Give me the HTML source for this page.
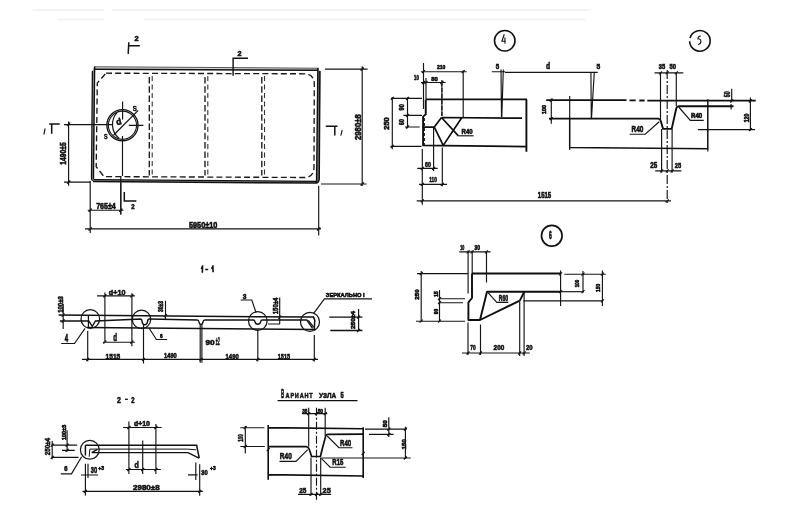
<!DOCTYPE html>
<html><head><meta charset="utf-8">
<style>
html,body{margin:0;padding:0;background:#fff;width:789px;height:514px;overflow:hidden}
svg{display:block;will-change:transform}
text{font-family:"Liberation Sans",sans-serif;font-weight:bold;fill:#111;stroke:#111;stroke-width:0.6}
.k{stroke:#0e0e0e;stroke-width:1.9;fill:none;stroke-linejoin:round}
.m{stroke:#111;stroke-width:1.4;fill:none}
.t{stroke:#141414;stroke-width:1.15;fill:none}
.d{stroke:#1e1e1e;stroke-width:1.3;fill:none;stroke-dasharray:7 3}
.f{stroke:#f3f3f3;stroke-width:2;fill:none}
</style></head>
<body>
<svg width="789" height="514" viewBox="0 0 789 514">
<path class="f" d="M33 10 H104 M112 10 H590 M58 19.5 H104 M144 19.5 H585"/>
<path d="M94.5 66.9 L318.5 68.3 V70.3 L94.5 69.1 Z" fill="#d4d4d4" stroke="none"/>
<path class="m" d="M94.5 66.7 L318.6 68.2" style="stroke-width:1.1;stroke:#555"/>
<path class="m" d="M94.5 69.2 L318 70.3" style="stroke-width:1.4"/>
<path d="M92.3 70 L91.5 178.8 H93.4 L94.6 67 Z" fill="#b0b0b0" stroke="none"/>
<path class="m" d="M92.4 71 L91.5 178.8 Q91.8 180.3 93.4 180.5" style="stroke-width:1.3"/>
<path class="m" d="M94.6 66.5 L93.4 179" style="stroke-width:1.5"/>
<path d="M93.4 179.6 L317 181.3 V183.1 L93.4 181.5 Z" fill="#9a9a9a" stroke="none"/>
<path class="m" d="M93.4 179.6 L317 181.3" style="stroke-width:1.3"/>
<path class="m" d="M93 181.5 L317 183.1" style="stroke-width:1.5"/>
<path d="M318 70 L317 183 L319.5 180 L320.4 71 Z" fill="#8a8a8a" stroke="none"/>
<path class="m" d="M317.9 68 L316.6 183.1" style="stroke-width:1.5"/>
<path class="m" d="M319.9 71 L319.2 179.3 Q319 182 317 183" style="stroke-width:1.5"/>
<path class="d" d="M106 73.2 L305 73.8 Q314.3 74.5 314.3 84 L314 168 Q313.5 177 305 177.5 L104 176.6 L96.2 166.7 L97.3 83 L106 73.2" style="stroke-dasharray:6 3.2;stroke-width:1.35;stroke:#1a1a1a"/>
<path class="d" d="M149.3 77 V175.5 M205 77 V175.5 M261.8 77 V175.5" style="stroke-width:1.35;stroke:#1a1a1a;stroke-dasharray:6.5 2.8"/>
<path class="d" d="M152.2 76 V176 M207.8 76 V176 M264.5 76 V176" style="stroke-width:1.1;stroke:#333;stroke-dasharray:5 3.5"/>
<circle class="m" cx="122.45" cy="125.25" r="15.6" style="stroke-width:1.3"/>
<circle class="t" cx="122.45" cy="125.25" r="14.1" style="stroke-width:1.1"/>
<path class="t" d="M117.2 112.4 A18 18 0 0 0 119.1 138.5" style="stroke-width:1.2"/>
<path class="t" d="M64 124.6 H112.9 M128.8 125.4 H143.4 M122.6 101.4 V119.4 M122.5 136.1 V176 M120.8 183 V214.5"/>
<path class="m" d="M113.7 135 L138.2 110.4" style="stroke-width:1.2"/>
<text x="132.70" y="110.50" font-size="6.76" textLength="4.00" lengthAdjust="spacingAndGlyphs" style="font-weight:normal">S</text>
<text x="103.90" y="138.90" font-size="6.76" textLength="3.60" lengthAdjust="spacingAndGlyphs" style="font-weight:normal">S</text>
<text transform="translate(118.7 121.3) rotate(-15)" x="-2.6" y="3.4" font-size="9" textLength="5.2" lengthAdjust="spacingAndGlyphs">d</text>
<path class="m" d="M128.8 42.3 L128.2 53.9 M128.5 45.8 H139.8" style="stroke-width:1.5"/>
<text x="134.60" y="41.40" font-size="7.89" textLength="4.10" lengthAdjust="spacingAndGlyphs">2</text>
<path class="m" d="M233.1 75.7 V58.25 H248" style="stroke-width:1.4"/>
<text x="237.60" y="55.70" font-size="7.75" textLength="4.00" lengthAdjust="spacingAndGlyphs">2</text>
<path class="m" d="M124.3 192 V201 H136.4" style="stroke-width:1.5"/>
<text x="131.20" y="209.10" font-size="7.32" textLength="3.30" lengthAdjust="spacingAndGlyphs">2</text>
<path class="m" d="M49.2 124 H59.7 M51.7 124 V133.8" style="stroke-width:1.5"/>
<path class="m" d="M45.1 128.5 L43.9 134.5" style="stroke-width:1.2"/>
<path class="m" d="M325.8 126.3 H337.5 M334.8 126.3 V135.6" style="stroke-width:1.5"/>
<path class="m" d="M342.2 130 L340.8 135.6" style="stroke-width:1.1"/>
<path class="t" d="M68.6 121.6 V185.8 M64 182.1 H90.3 M67.00 125.90 L70.20 122.70 M67.00 183.70 L70.20 180.50"/>
<text transform="translate(63.00 153.50) rotate(-90)" x="0" y="2.90" text-anchor="middle" font-size="8.17" textLength="22.40" lengthAdjust="spacingAndGlyphs">1490±5</text>
<path class="t" d="M90.2 181 V233 M87.7 210.2 H123.5 M120.8 176 V214.5 M88.60 211.80 L91.80 208.60 M119.20 211.80 L122.40 208.60"/>
<text x="96.20" y="208.70" font-size="8.31" textLength="19.60" lengthAdjust="spacingAndGlyphs">765±4</text>
<path class="t" d="M85 228.9 H321 M318.7 185.7 V235.5 M88.60 230.50 L91.80 227.30 M317.10 230.50 L320.30 227.30"/>
<text x="188.90" y="227.50" font-size="8.45" textLength="28.50" lengthAdjust="spacingAndGlyphs">5950±10</text>
<path class="t" d="M362.2 66.2 V186 M325 69.1 H367.6 M321 184 H366.6 M360.60 70.70 L363.80 67.50 M360.60 185.60 L363.80 182.40"/>
<text transform="translate(357.05 127.15) rotate(-90)" x="0" y="3.45" text-anchor="middle" font-size="9.72" textLength="25.70" lengthAdjust="spacingAndGlyphs">2980±8</text>
<circle class="m" cx="504.75" cy="40.75" r="10.25" style="stroke-width:1.6"/>
<path class="m" d="M504.3 34.2 L501.9 41.3 H505.8 M504.9 37.5 L505 43.8" style="stroke-width:1.1"/>
<path class="k" d="M425.75 99.4 H527 M425.75 99.4 V114.3 L423.1 116.6 V145.4 M422.3 145.4 L526 146.6 M526.4 99.4 V151.7"/>
<path class="k" d="M441.5 117.5 L522 118.2 M422.6 127.1 H434.3 L441.5 117.5 M434.3 127.1 L443.25 145.4 L461.9 117.5 M441.5 117.5 L458.4 135.8" style="stroke-width:1.7"/>
<path class="t" d="M458.4 135.8 H473.6"/>
<path class="t" d="M424.5 118 V145" style="stroke-dasharray:3 2;stroke-width:0.9"/>
<text x="461.60" y="133.80" font-size="7.75" textLength="11.10" lengthAdjust="spacingAndGlyphs">R40</text>
<path class="t" d="M423.5 63 V109 M426 78 V99 M441.9 80 V116 M463.2 70.2 V117.5 M421 71.7 H466.7 M421 82.5 H445.7"/>
<path class="t" d="M441.9 82 V116" style="stroke-dasharray:4 2"/>
<path class="t" d="M422.00 73.20 L425.00 70.20 M461.70 73.20 L464.70 70.20 M422.00 84.00 L425.00 81.00 M424.50 84.00 L427.50 81.00 M440.40 84.00 L443.40 81.00"/>
<text x="436.90" y="69.20" font-size="6.20" textLength="8.50" lengthAdjust="spacingAndGlyphs">210</text>
<text x="414.10" y="79.70" font-size="6.90" textLength="4.70" lengthAdjust="spacingAndGlyphs">10</text>
<text x="431.20" y="80.50" font-size="6.06" textLength="6.60" lengthAdjust="spacingAndGlyphs">80</text>
<path class="t" d="M392.3 97.3 V149.2 M391 98.4 H422 M390.5 146.3 H421.5 M407.5 97.3 V128.2 M403.4 115.4 H422 M405 127 H419.7"/>
<path class="t" d="M390.80 99.90 L393.80 96.90 M390.80 147.80 L393.80 144.80 M406.00 99.90 L409.00 96.90 M406.00 116.90 L409.00 113.90 M406.00 128.50 L409.00 125.50"/>
<text transform="translate(386.65 123.50) rotate(-90)" x="0" y="2.35" text-anchor="middle" font-size="6.62" textLength="12.40" lengthAdjust="spacingAndGlyphs">250</text>
<text transform="translate(401.90 107.20) rotate(-90)" x="0" y="2.30" text-anchor="middle" font-size="6.48" textLength="6.40" lengthAdjust="spacingAndGlyphs">90</text>
<text transform="translate(401.90 122.10) rotate(-90)" x="0" y="2.30" text-anchor="middle" font-size="6.48" textLength="5.80" lengthAdjust="spacingAndGlyphs">60</text>
<path class="t" d="M433.6 128 V171 M417.2 168.4 H437.7 M442.3 147.5 V186.2 M419 184.4 H447 M422.3 149 V204.8"/>
<path class="t" d="M432.10 169.90 L435.10 166.90 M420.80 169.90 L423.80 166.90 M440.80 185.90 L443.80 182.90 M420.80 185.90 L423.80 182.90"/>
<text x="425.10" y="166.60" font-size="7.32" textLength="5.80" lengthAdjust="spacingAndGlyphs">60</text>
<text x="429.20" y="182.40" font-size="7.46" textLength="7.60" lengthAdjust="spacingAndGlyphs">110</text>
<path class="t" d="M491.8 71.7 H505 M501 69.6 L501.5 117 M503.3 69.6 L501.8 117"/>
<text x="495.80" y="69.20" font-size="6.90" textLength="3.40" lengthAdjust="spacingAndGlyphs">5</text>
<path class="m" d="M689.6 41.3 A10.3 10.3 0 1 0 690 38" style="stroke-width:1.6"/>
<path class="m" d="M700.8 36.2 Q699 35.8 698.3 37.3 L697.9 38.8 Q700.8 38.6 700.9 41.3 Q700.9 43.8 698.2 44.8" style="stroke-width:1.1"/>
<path class="t" d="M505 72.4 H597.7 M590.9 72 L591.3 118.4 M594.3 72 L591.5 118.4"/>
<text x="545.90" y="69.20" font-size="9.01" textLength="4.10" lengthAdjust="spacingAndGlyphs">d</text>
<text x="596.60" y="69.20" font-size="7.18" textLength="3.70" lengthAdjust="spacingAndGlyphs">5</text>
<path class="k" d="M546.2 100.1 H626.5 M629.5 100.4 H635.7 M639.3 100.5 H644.6 M647.3 100.6 H755.7 M549 118.6 H658.4 Q660.6 119.3 661 121.8 L663.1 128.9 H671.7 L676.3 108.3 Q677 106.3 679 106.3 H733.5"/>
<path class="m" d="M569.7 118.6 V147.6 L707.8 148.7 V99.3" style="stroke-width:1.5"/>
<path class="t" d="M569.7 95.9 V118.6 M569.7 147.6 V150 M707.8 148.7 V151.5 M731.1 104 V109.5"/>
<path class="t" d="M551.3 98.6 V123.8 M549.80 101.60 L552.80 98.60 M549.80 120.10 L552.80 117.10"/>
<text transform="translate(544.55 109.50) rotate(-90)" x="0" y="1.75" text-anchor="middle" font-size="4.93" textLength="9.00" lengthAdjust="spacingAndGlyphs">100</text>
<path class="t" d="M654.5 72.8 H683.3 M660.5 72.5 V120.2 M676.3 72.5 V106.2 M661.6 129 V172.8 M672.1 129 V172.8 M655.2 170.8 H681.4"/>
<path class="t" d="M667.2 70 V205" style="stroke-dasharray:9 2 2 2"/>
<path class="t" d="M659.00 74.30 L662.00 71.30 M665.70 74.30 L668.70 71.30 M674.80 74.30 L677.80 71.30 M660.10 172.30 L663.10 169.30 M665.70 172.30 L668.70 169.30 M670.60 172.30 L673.60 169.30"/>
<text x="658.70" y="69.40" font-size="6.90" textLength="6.40" lengthAdjust="spacingAndGlyphs">35</text>
<text x="669.60" y="69.40" font-size="6.90" textLength="6.40" lengthAdjust="spacingAndGlyphs">50</text>
<text x="650.20" y="168.40" font-size="8.17" textLength="7.00" lengthAdjust="spacingAndGlyphs">25</text>
<text x="674.70" y="168.40" font-size="7.46" textLength="6.40" lengthAdjust="spacingAndGlyphs">25</text>
<path class="t" d="M629.7 134.2 H645.2 L659.2 121.8 M678.7 107 L690.3 120.3 H703.7"/>
<text x="631.50" y="132.30" font-size="9.15" textLength="11.90" lengthAdjust="spacingAndGlyphs">R40</text>
<text x="691.10" y="118.20" font-size="6.48" textLength="11.10" lengthAdjust="spacingAndGlyphs">R40</text>
<path class="t" d="M416.7 200.8 H671 M420.80 202.30 L423.80 199.30 M665.70 202.30 L668.70 199.30"/>
<text x="537.80" y="197.70" font-size="8.17" textLength="13.40" lengthAdjust="spacingAndGlyphs">1515</text>
<path class="t" d="M731.7 88.8 V102.2 M697.9 129.6 H755.1 M750.4 97.5 V130.8 M730.20 102.50 L733.20 99.50 M748.90 102.50 L751.90 99.50 M748.90 131.10 L751.90 128.10"/>
<text transform="translate(726.75 94.30) rotate(-90)" x="0" y="2.95" text-anchor="middle" font-size="8.31" textLength="5.80" lengthAdjust="spacingAndGlyphs">50</text>
<text transform="translate(746.65 117.95) rotate(-90)" x="0" y="2.35" text-anchor="middle" font-size="6.62" textLength="8.70" lengthAdjust="spacingAndGlyphs">120</text>
<circle class="m" cx="551.8" cy="235.75" r="10.3" style="stroke-width:1.7"/>
<text x="549.10" y="239.40" font-size="11.13" textLength="2.80" lengthAdjust="spacingAndGlyphs" style="stroke-width:0.8">6</text>
<path class="k" d="M472 273.5 H560.7 M472 273.5 V298 L468.4 302.3 V320 H480 L487 291.7 H560.7 M480 320 L519.8 300.6 L524.3 291.7"/>
<path class="t" d="M560.7 291.7 H584"/>
<path class="t" d="M488 292.6 L496.8 302.3 H508.3"/>
<text x="498.80" y="301.20" font-size="8.31" textLength="9.20" lengthAdjust="spacingAndGlyphs">R60</text>
<path class="t" d="M523.4 300.8 H602.4 M560.6 270.4 V305.9 M564.3 274.2 H605.8 M583 271 V292.2 M602.4 270.4 V305.9"/>
<path class="t" d="M559.10 275.30 L562.10 272.30 M559.10 293.20 L562.10 290.20 M581.50 275.70 L584.50 272.70 M581.50 293.20 L584.50 290.20 M600.90 275.70 L603.90 272.70 M600.90 302.30 L603.90 299.30"/>
<text transform="translate(577.15 283.40) rotate(-90)" x="0" y="2.05" text-anchor="middle" font-size="5.77" textLength="7.60" lengthAdjust="spacingAndGlyphs">100</text>
<text transform="translate(597.70 287.80) rotate(-90)" x="0" y="2.10" text-anchor="middle" font-size="5.92" textLength="8.20" lengthAdjust="spacingAndGlyphs">150</text>
<path class="t" d="M459.3 251.8 H490.6 M468.1 250.4 V293.4 M472.2 250.4 V273.6 M486.5 251.8 V282.5"/>
<path class="t" d="M466.60 253.30 L469.60 250.30 M470.70 253.30 L473.70 250.30 M485.00 253.30 L488.00 250.30"/>
<text x="460.30" y="250.10" font-size="6.76" textLength="4.10" lengthAdjust="spacingAndGlyphs">10</text>
<text x="474.60" y="250.10" font-size="6.76" textLength="5.50" lengthAdjust="spacingAndGlyphs">30</text>
<path class="t" d="M417 273.6 H468.1 M421.2 271 V321.6 M416 321.2 H465 M439.5 290 V321.6 M438.5 298.7 H465 M438.5 302.7 H463"/>
<path class="t" d="M419.70 275.10 L422.70 272.10 M419.70 322.70 L422.70 319.70 M438.00 300.20 L441.00 297.20 M438.00 304.20 L441.00 301.20 M438.00 322.70 L441.00 319.70"/>
<text transform="translate(417.20 294.50) rotate(-90)" x="0" y="2.10" text-anchor="middle" font-size="5.92" textLength="10.40" lengthAdjust="spacingAndGlyphs">250</text>
<text transform="translate(436.00 294.00) rotate(-90)" x="0" y="1.90" text-anchor="middle" font-size="5.35" textLength="5.40" lengthAdjust="spacingAndGlyphs">15</text>
<text transform="translate(436.00 311.45) rotate(-90)" x="0" y="1.90" text-anchor="middle" font-size="5.35" textLength="5.50" lengthAdjust="spacingAndGlyphs">90</text>
<path class="t" d="M461.9 353 H529.8 M468 322.6 V355 M480.5 324.6 V355 M519.7 302 V356 M524.1 292 V356"/>
<path class="t" d="M466.50 354.50 L469.50 351.50 M479.00 354.50 L482.00 351.50 M518.20 354.50 L521.20 351.50 M522.60 354.50 L525.60 351.50"/>
<text x="470.30" y="349.70" font-size="7.61" textLength="5.40" lengthAdjust="spacingAndGlyphs">70</text>
<text x="493.60" y="349.70" font-size="7.61" textLength="10.60" lengthAdjust="spacingAndGlyphs">200</text>
<text x="526.10" y="349.70" font-size="7.61" textLength="6.50" lengthAdjust="spacingAndGlyphs">20</text>
<path class="m" d="M202.6 265.2 L202.3 272.7 M202.5 266.5 L201.2 268.8 M205.3 269.5 H208.2 M212.9 265.3 L213.1 272.2 M212.9 266.5 L211.5 268.8" style="stroke-width:1.6"/>
<path class="m" d="M58.6 315.1 L313.5 317.1 L314.8 320.3 L314.3 328.9" style="stroke-width:1.5"/>
<path class="m" d="M59.9 321 L88.8 321 L92.3 326.3 L95.5 321 L136 319.2 L140.30 319.00 Q141.80 319.00 142.10 321.56 Q142.50 324.70 144.80 324.70 Q147.10 324.70 147.50 321.56 Q147.80 319.00 149.30 319.00 L197.20 320.00 Q198.70 320.00 199.00 321.98 Q199.40 324.40 201.00 324.40 Q202.60 324.40 203.00 321.98 Q203.30 320.00 204.80 320.00 L253.20 320.00 Q254.70 320.00 255.00 321.89 Q255.40 324.20 257.80 324.20 Q260.20 324.20 260.60 321.89 Q260.90 320.00 262.40 320.00 L306.8 320 L312.6 328.3" style="stroke-width:1.4"/>
<path class="m" d="M308.4 320.3 L313.7 327.2" style="stroke-width:1.2"/>
<path class="m" d="M87 327.6 L316 329.4" style="stroke-width:1.5"/>
<path class="m" d="M88.4 316 V327.6" style="stroke-width:1.2"/>
<circle class="t" cx="90.3" cy="319" r="9.3" style="stroke-width:1.25"/>
<circle class="t" cx="141.5" cy="319.4" r="9.2" style="stroke-width:1.25"/>
<circle class="t" cx="257.8" cy="321" r="9.3" style="stroke-width:1.25"/>
<circle class="t" cx="310" cy="321.9" r="9.5" style="stroke-width:1.25"/>
<path class="t" d="M63.2 303.8 V329 M61.70 316.60 L64.70 313.60 M61.70 322.50 L64.70 319.50"/>
<text transform="translate(60.25 304.50) rotate(-90)" x="0" y="2.65" text-anchor="middle" font-size="7.46" textLength="16.60" lengthAdjust="spacingAndGlyphs">100±3</text>
<path class="t" d="M97 295.9 H134.9 M104.9 292.6 V342.8 M131.9 293.3 V346.2 M102.9 342.2 H134.9 M103.40 297.40 L106.40 294.40 M130.40 297.40 L133.40 294.40 M103.40 343.70 L106.40 340.70 M130.40 343.70 L133.40 340.70"/>
<text x="108.80" y="294.50" font-size="8.03" textLength="16.70" lengthAdjust="spacingAndGlyphs">d+10</text>
<text x="113.30" y="340.70" font-size="10.00" textLength="3.80" lengthAdjust="spacingAndGlyphs">d</text>
<path class="t" d="M61.2 343.5 H74.5 L85 328.3 M149 328 L156.4 339.5 H167.1"/>
<text x="64.80" y="341.90" font-size="10.42" textLength="3.40" lengthAdjust="spacingAndGlyphs">4</text>
<text x="160.00" y="337.60" font-size="6.06" textLength="2.70" lengthAdjust="spacingAndGlyphs">6</text>
<path class="t" d="M165.5 300.7 V320 M164.00 317.10 L167.00 314.10"/>
<text transform="translate(160.75 306.50) rotate(-90)" x="0" y="2.45" text-anchor="middle" font-size="6.90" textLength="11.00" lengthAdjust="spacingAndGlyphs">30±3</text>
<path class="t" d="M82 359.4 H318 M87.7 331 V361.5 M143.5 324.7 V363.5 M200.2 324 V362.7 M201.9 324 V362.7 M257.8 330 V361.6 M314.3 335 V361.6"/>
<path class="t" d="M86.20 360.90 L89.20 357.90 M142.00 360.90 L145.00 357.90 M199.50 360.90 L202.50 357.90 M256.30 360.90 L259.30 357.90 M312.80 360.90 L315.80 357.90"/>
<text x="105.60" y="358.70" font-size="7.61" textLength="14.60" lengthAdjust="spacingAndGlyphs">1515</text>
<text x="164.10" y="358.20" font-size="7.18" textLength="12.70" lengthAdjust="spacingAndGlyphs">1490</text>
<text x="225.60" y="358.70" font-size="7.61" textLength="13.10" lengthAdjust="spacingAndGlyphs">1490</text>
<text x="277.80" y="358.70" font-size="7.61" textLength="12.20" lengthAdjust="spacingAndGlyphs">1515</text>
<text x="205.50" y="345.00" font-size="7.32" textLength="9.20" lengthAdjust="spacingAndGlyphs">90</text>
<text x="215.80" y="345.00" font-size="11.13" textLength="4.00" lengthAdjust="spacingAndGlyphs">±2</text>
<path class="t" d="M240.7 300 H251.8 L256.1 312.8"/>
<text x="242.70" y="298.80" font-size="7.61" textLength="3.70" lengthAdjust="spacingAndGlyphs">3</text>
<path class="t" d="M313.7 313.3 L324.4 298.9 H372"/>
<text x="325.80" y="296.50" font-size="5.92" textLength="38.90" lengthAdjust="spacingAndGlyphs">ЗЕРКАЛЬНО I</text>
<path class="t" d="M279.7 297.4 V324 M268 324 H280 M278.20 318.60 L281.20 315.60"/>
<text transform="translate(275.40 305.95) rotate(-90)" x="0" y="2.70" text-anchor="middle" font-size="7.61" textLength="16.50" lengthAdjust="spacingAndGlyphs">150±4</text>
<path class="m" d="M329.2 317.1 H362.4 M330.3 330.5 H362.4" style="stroke-width:1.3"/>
<path class="t" d="M358.6 309 V331 M357.10 318.60 L360.10 315.60 M357.10 332.00 L360.10 329.00"/>
<text transform="translate(352.45 320.05) rotate(-90)" x="0" y="2.15" text-anchor="middle" font-size="6.06" textLength="18.10" lengthAdjust="spacingAndGlyphs">250±4</text>
<text x="116.90" y="402.50" font-size="9.58" textLength="3.90" lengthAdjust="spacingAndGlyphs">2</text>
<text x="131.30" y="402.50" font-size="9.58" textLength="3.30" lengthAdjust="spacingAndGlyphs">2</text>
<path class="m" d="M125 399.3 H127.9" style="stroke-width:1.3"/>
<path class="m" d="M85.4 445.3 H196.7 L197.6 450.3 L199.3 458.2 M85.4 445.3 V455.5" style="stroke-width:1.5"/>
<path class="t" d="M89.8 449.1 H187.5 L196 449.8 M89.8 449.1 L89.2 456.7" style="stroke-width:1"/>
<path class="m" d="M91.7 452.6 H188 L199 458.2 M91.7 452.6 L97.4 449.3" style="stroke-width:1.4"/>
<circle class="t" cx="89.8" cy="449.8" r="9.4" style="stroke-width:1.25"/>
<path class="t" d="M123.1 427.5 H161.7 M128.9 421.4 V473.9 M155.9 424 V473.9 M142.7 440.6 V473.9 M125.8 469.5 H160.8 M127.40 429.00 L130.40 426.00 M154.40 429.00 L157.40 426.00 M127.40 471.00 L130.40 468.00 M141.20 471.00 L144.20 468.00 M154.40 471.00 L157.40 468.00"/>
<text x="133.90" y="426.30" font-size="7.75" textLength="16.10" lengthAdjust="spacingAndGlyphs">d+10</text>
<text x="134.60" y="467.50" font-size="9.44" textLength="4.30" lengthAdjust="spacingAndGlyphs">d</text>
<path class="t" d="M52.2 441 V459.2 M67.1 430.2 V451.7 M51.3 445.1 H77.2 M62 450.4 H74.7 M51.3 457.4 H78.5 M50.70 446.60 L53.70 443.60 M50.70 458.90 L53.70 455.90 M65.60 446.60 L68.60 443.60 M65.60 451.90 L68.60 448.90"/>
<text transform="translate(46.85 446.65) rotate(-90)" x="0" y="2.85" text-anchor="middle" font-size="8.03" textLength="17.10" lengthAdjust="spacingAndGlyphs">250±4</text>
<text transform="translate(63.60 432.40) rotate(-90)" x="0" y="1.90" text-anchor="middle" font-size="5.35" textLength="15.20" lengthAdjust="spacingAndGlyphs">100±3</text>
<path class="t" d="M60.8 473.8 H71.5 L81.6 456.7"/>
<text x="64.20" y="471.00" font-size="6.34" textLength="3.20" lengthAdjust="spacingAndGlyphs">6</text>
<path class="t" d="M85.4 463.7 V495.5 M88 463.7 V478 M81 475 H98 M195.8 462.5 V480 M199.7 464.3 V495.8 M188 474.8 H197.6"/>
<text x="90.80" y="472.90" font-size="8.17" textLength="6.30" lengthAdjust="spacingAndGlyphs">30</text>
<text x="98.30" y="470.30" font-size="5.35" textLength="5.80" lengthAdjust="spacingAndGlyphs">+3</text>
<text x="201.30" y="474.50" font-size="7.75" textLength="6.40" lengthAdjust="spacingAndGlyphs">30</text>
<text x="210.10" y="470.10" font-size="5.35" textLength="5.60" lengthAdjust="spacingAndGlyphs">+3</text>
<path class="t" d="M82.5 491.4 H202.8 M83.90 492.90 L86.90 489.90 M198.20 492.90 L201.20 489.90"/>
<text x="133.10" y="490.30" font-size="7.89" textLength="26.50" lengthAdjust="spacingAndGlyphs">2980±8</text>
<text x="280.90" y="398.20" font-size="12.25" textLength="3.20" lengthAdjust="spacingAndGlyphs" style="stroke-width:0.6">В</text>
<text x="285.60" y="398.20" font-size="7.18" textLength="27.80" lengthAdjust="spacingAndGlyphs" style="stroke-width:0.5;letter-spacing:1px">АРИАНТ</text>
<text x="319.10" y="398.20" font-size="7.18" textLength="17.10" lengthAdjust="spacingAndGlyphs" style="stroke-width:0.5">УЗЛА</text>
<text x="340.60" y="398.20" font-size="9.72" textLength="3.20" lengthAdjust="spacingAndGlyphs" style="stroke-width:0.6">5</text>
<path class="m" d="M277.6 400.6 H357.5" style="stroke-width:1.3"/>
<path class="k" d="M268.8 427.6 L363.2 428.8 M268.2 425 V479.8 M268.2 474.6 L363.2 476 M363.2 427.3 V477.9" style="stroke-width:1.6"/>
<path class="k" d="M268.2 446.7 H306.7 Q309 447.5 309.6 450.2 L311.6 456.5 H320.4 L322.3 448.7 L325.8 435.6 Q326.5 434.4 327.8 434.3 L363.2 434.1" style="stroke-width:1.7"/>
<path class="t" d="M240.3 427.7 H264.4 M240.3 446.5 H264.8 M245.3 426 V453.5 M243.80 429.20 L246.80 426.20 M243.80 448.00 L246.80 445.00"/>
<text transform="translate(239.90 437.95) rotate(-90)" x="0" y="2.80" text-anchor="middle" font-size="7.89" textLength="7.70" lengthAdjust="spacingAndGlyphs">100</text>
<path class="t" d="M308.7 407.8 V446.7 M325.2 407.8 V436 M311 457.4 V495.4 M320.7 457.4 V495.4 M301.9 413.6 H327.2 M298 494.4 H331.1"/>
<path class="t" d="M316.5 407.8 V500" style="stroke-dasharray:8 2 2 2"/>
<path class="t" d="M307.20 415.10 L310.20 412.10 M315.00 415.10 L318.00 412.10 M323.70 415.10 L326.70 412.10 M309.50 495.90 L312.50 492.90 M315.00 495.90 L318.00 492.90 M319.20 495.90 L322.20 492.90 M266.70 451.10 L269.70 448.10 M361.70 455.00 L364.70 452.00"/>
<text x="302.20" y="412.90" font-size="6.20" textLength="5.20" lengthAdjust="spacingAndGlyphs">35</text>
<text x="317.70" y="412.90" font-size="6.20" textLength="5.30" lengthAdjust="spacingAndGlyphs">50</text>
<text x="299.30" y="493.20" font-size="7.46" textLength="7.10" lengthAdjust="spacingAndGlyphs">25</text>
<text x="322.60" y="493.20" font-size="7.46" textLength="8.10" lengthAdjust="spacingAndGlyphs">25</text>
<path class="t" d="M279.5 461.3 H296 L307.7 449.6 M352.5 447.7 H338.9 L327.2 436 M345.7 467.2 H330.1 L321.3 458.4"/>
<text x="279.80" y="459.10" font-size="8.73" textLength="12.00" lengthAdjust="spacingAndGlyphs">R40</text>
<text x="340.10" y="446.40" font-size="8.73" textLength="11.10" lengthAdjust="spacingAndGlyphs">R40</text>
<text x="332.30" y="464.90" font-size="8.73" textLength="11.10" lengthAdjust="spacingAndGlyphs">R15</text>
<path class="t" d="M365 429.1 H406.9 M368.9 434.3 H393.6 M321.3 458 H410.7 M388.8 417.2 V437.1 M405.4 426.7 V459 M387.30 430.60 L390.30 427.60 M387.30 435.80 L390.30 432.80 M403.90 430.60 L406.90 427.60 M403.90 459.50 L406.90 456.50"/>
<text transform="translate(384.55 423.80) rotate(-90)" x="0" y="2.05" text-anchor="middle" font-size="5.77" textLength="7.00" lengthAdjust="spacingAndGlyphs">50</text>
<text transform="translate(403.60 444.25) rotate(-90)" x="0" y="2.10" text-anchor="middle" font-size="5.92" textLength="9.90" lengthAdjust="spacingAndGlyphs">150</text>
</svg>
</body></html>
